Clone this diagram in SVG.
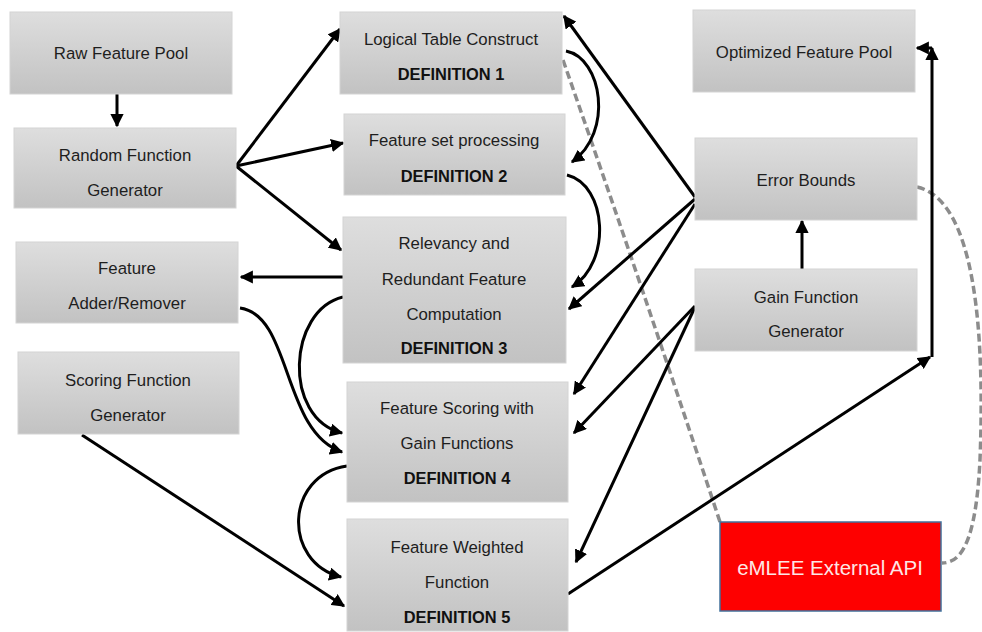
<svg xmlns="http://www.w3.org/2000/svg" width="982" height="632" viewBox="0 0 982 632">
<defs>
<linearGradient id="g" x1="0" y1="0" x2="0" y2="1">
<stop offset="0" stop-color="#dedede"/>
<stop offset="1" stop-color="#c2c2c2"/>
</linearGradient>
<marker id="a" viewBox="0 0 10 10" refX="9" refY="5" markerWidth="4.4" markerHeight="4.4" orient="auto">
<path d="M0,0 L10,5 L0,10 z" fill="#000"/>
</marker>
<style>
.b{fill:url(#g);stroke:#d4d4d4;stroke-width:1}
.t{font-family:"Liberation Sans",Arial,sans-serif;font-size:16.8px;fill:#1e1e1e;text-anchor:middle}
.d{font-weight:bold;font-size:16.4px;fill:#111}
.c{fill:none;stroke:#000;stroke-width:3;marker-end:url(#a)}
.x{fill:none;stroke:#8c8c8c;stroke-width:3.5;stroke-dasharray:8,4}
</style>
</defs>
<rect width="982" height="632" fill="#fff"/>
<g id="connectors">
<path class="x" d="M563,60 Q640,280 720,522"/>
<path class="x" d="M917,187 C975,200 985,330 980,460 C976,540 962,563 942,563"/>
<path class="c" d="M117,94 L117,126"/>
<path class="c" d="M236,166 L340,29"/>
<path class="c" d="M236,166 L343,143"/>
<path class="c" d="M236,166 L341,250"/>
<path class="c" d="M343,277 L241,277"/>
<path class="c" d="M695,197 L564,16"/>
<path class="c" d="M695,199 L569,309"/>
<path class="c" d="M695,204 L574,394"/>
<path class="c" d="M695,306 L574,433"/>
<path class="c" d="M695,307 L576,562"/>
<path class="c" d="M82,435 L344,606"/>
<path class="c" d="M568,594 L930,357"/>
<path class="c" d="M932,357 L932,48"/>
<path class="c" d="M932,48 L917,48"/>
<path class="c" d="M802,269 L802,221"/>
<path class="c" d="M566,51 C602,58 614,132 572,162"/>
<path class="c" d="M567,175 C607,185 612,262 572,287"/>
<path class="c" d="M343,297 C288,310 282,418 342,433"/>
<path class="c" d="M240,308 C292,315 282,432 342,452"/>
<path class="c" d="M347,466 C285,475 282,562 341,577"/>
</g>
<g id="raw"><rect class="b" x="10" y="12" width="222" height="82"/><text class="t" x="121" y="59">Raw Feature Pool</text></g>
<g id="random"><rect class="b" x="14" y="128" width="222" height="80"/><text class="t" x="125" y="161">Random Function</text><text class="t" x="125" y="196">Generator</text></g>
<g id="adder"><rect class="b" x="16" y="242" width="222" height="81"/><text class="t" x="127" y="274">Feature</text><text class="t" x="127" y="309">Adder/Remover</text></g>
<g id="scoringgen"><rect class="b" x="18" y="352" width="221" height="82"/><text class="t" x="128" y="386">Scoring Function</text><text class="t" x="128" y="421">Generator</text></g>
<g id="def1"><rect class="b" x="340" y="12" width="222" height="82"/><text class="t" x="451" y="45">Logical Table Construct</text><text class="t d" x="451" y="80">DEFINITION 1</text></g>
<g id="def2"><rect class="b" x="344" y="114" width="221" height="81"/><text class="t" x="454" y="146">Feature set processing</text><text class="t d" x="454" y="182">DEFINITION 2</text></g>
<g id="def3"><rect class="b" x="343" y="217" width="223" height="146"/><text class="t" x="454" y="249">Relevancy and</text><text class="t" x="454" y="285">Redundant Feature</text><text class="t" x="454" y="320">Computation</text><text class="t d" x="454" y="354">DEFINITION 3</text></g>
<g id="def4"><rect class="b" x="347" y="382" width="221" height="120"/><text class="t" x="457" y="414">Feature Scoring with</text><text class="t" x="457" y="449">Gain Functions</text><text class="t d" x="457" y="484">DEFINITION 4</text></g>
<g id="def5"><rect class="b" x="347" y="519" width="221" height="112"/><text class="t" x="457" y="553">Feature Weighted</text><text class="t" x="457" y="588">Function</text><text class="t d" x="457" y="623">DEFINITION 5</text></g>
<g id="optimized"><rect class="b" x="693" y="10" width="222" height="82"/><text class="t" x="804" y="58">Optimized Feature Pool</text></g>
<g id="error"><rect class="b" x="695" y="138" width="222" height="82"/><text class="t" x="806" y="186">Error Bounds</text></g>
<g id="gain"><rect class="b" x="695" y="269" width="222" height="82"/><text class="t" x="806" y="303">Gain Function</text><text class="t" x="806" y="337">Generator</text></g>
<g id="api"><rect x="720" y="522" width="221" height="89" fill="#fe0000" stroke="#41719c" stroke-width="1.5"/><text class="t" x="830" y="575" style="font-size:20.5px;fill:#fde6e6">eMLEE External API</text></g>
</svg>
